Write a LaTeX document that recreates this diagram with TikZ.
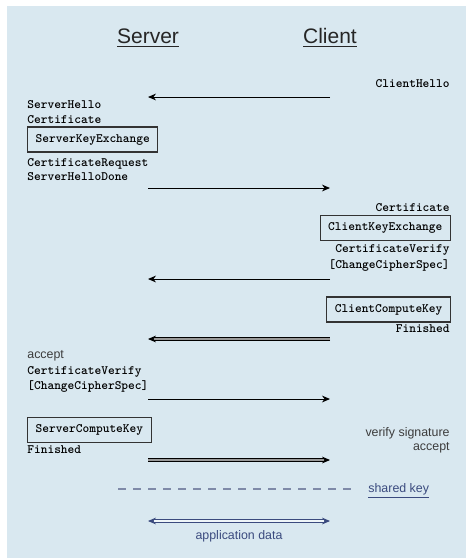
\documentclass[tikz,border=0pt]{standalone}
\usepackage{fontspec}
\usepackage{tikz}
\usetikzlibrary{arrows.meta}
\newfontfamily\helv{Liberation Sans}
\definecolor{panel}{HTML}{D9E8F0}
\definecolor{slate}{HTML}{3A4A7E}
\definecolor{dashgray}{HTML}{7F8AA8}
\definecolor{notegray}{HTML}{3C3C3C}

\begin{document}
\begin{tikzpicture}[x=0.5pt,y=-0.5pt,
  msg/.style={font=\fontsize{6.4}{7.6}\selectfont\ttfamily\bfseries,inner sep=0pt},
  keybox/.style={msg,draw=black!80,line width=0.6pt,inner xsep=4pt,minimum height=12.5pt},
  note/.style={font=\fontsize{6.2}{7.4}\selectfont\helv,text=notegray,inner sep=0pt},
  party/.style={font=\fontsize{10.5}{12}\selectfont\helv,text=black!85,inner sep=0pt},
  flow/.style={line width=0.5pt,-{Stealth[length=4pt,width=3.4pt]}},
  dflow/.style={flow,line width=0.45pt,double=black!40,double distance=0.8pt}]
\useasboundingbox (0,0) rectangle (466,558);
\fill[panel] (7,6) rectangle (466,558);
\node[party,anchor=base] (srv) at (148,43) {\underline{Server}};
\node[party,anchor=base] (cli) at (330,43) {\underline{Client}};
\foreach \i/\y in {1/97,2/188,3/279,4/339,5/399,6/460,7/521}{
  \coordinate (s\i) at (148,\y);
  \coordinate (c\i) at (330,\y);
}
\node[msg,anchor=base east] (ch) at (450,87) {ClientHello};
\node[msg,anchor=base west] (sh) at (27,108) {ServerHello};
\node[msg,anchor=base west] (sc) at (27,123) {Certificate};
\node[keybox,anchor=west] (ske) at (27,139.5) {ServerKeyExchange};
\node[msg,anchor=base west] (cr) at (27,166) {CertificateRequest};
\node[msg,anchor=base west] (shd) at (27,180) {ServerHelloDone};
\node[msg,anchor=base east] (cc) at (450,211) {Certificate};
\node[keybox,anchor=east] (cke) at (451,228) {ClientKeyExchange};
\node[msg,anchor=base east] (cv) at (450,252) {CertificateVerify};
\node[msg,anchor=base east] (ccs) at (450,268) {[ChangeCipherSpec]};
\node[keybox,anchor=east] (cck) at (451,309.5) {ClientComputeKey};
\node[msg,anchor=base east] (cf) at (450,332) {Finished};
\node[note,anchor=base west] (sa) at (27,358) {accept};
\node[msg,anchor=base west] (sv) at (27,374) {CertificateVerify};
\node[msg,anchor=base west] (sccs) at (27,389) {[ChangeCipherSpec]};
\node[keybox,anchor=west] (sck) at (27,430) {ServerComputeKey};
\node[msg,anchor=base west] (sf) at (27,453) {Finished};
\node[note,anchor=base east] (vs) at (450,436) {verify signature};
\node[note,anchor=base east] (ca) at (450,450) {accept};
\draw[flow] (c1) -- (s1);
\draw[flow] (s2) -- (c2);
\draw[flow] (c3) -- (s3);
\draw[dflow] (c4) -- (s4);
\draw[flow] (s5) -- (c5);
\draw[dflow] (s6) -- (c6);
\node[note,text=slate,anchor=base west] (sk) at (368,492) {\underline{shared key}};
\coordinate (d0) at (118,489);
\coordinate (d1) at (353,489);
\draw[dashgray,line width=0.65pt,dash pattern=on 4pt off 3.5pt] (d0) -- (d1);
\draw[slate,line width=0.45pt,double=white!55!panel,double distance=0.8pt,{Stealth[length=4pt,width=3.4pt]}-{Stealth[length=4pt,width=3.4pt]}] (s7) -- (c7);
\node[note,text=slate,anchor=base] (ad) at (239,539) {application data};
\end{tikzpicture}
\end{document}
